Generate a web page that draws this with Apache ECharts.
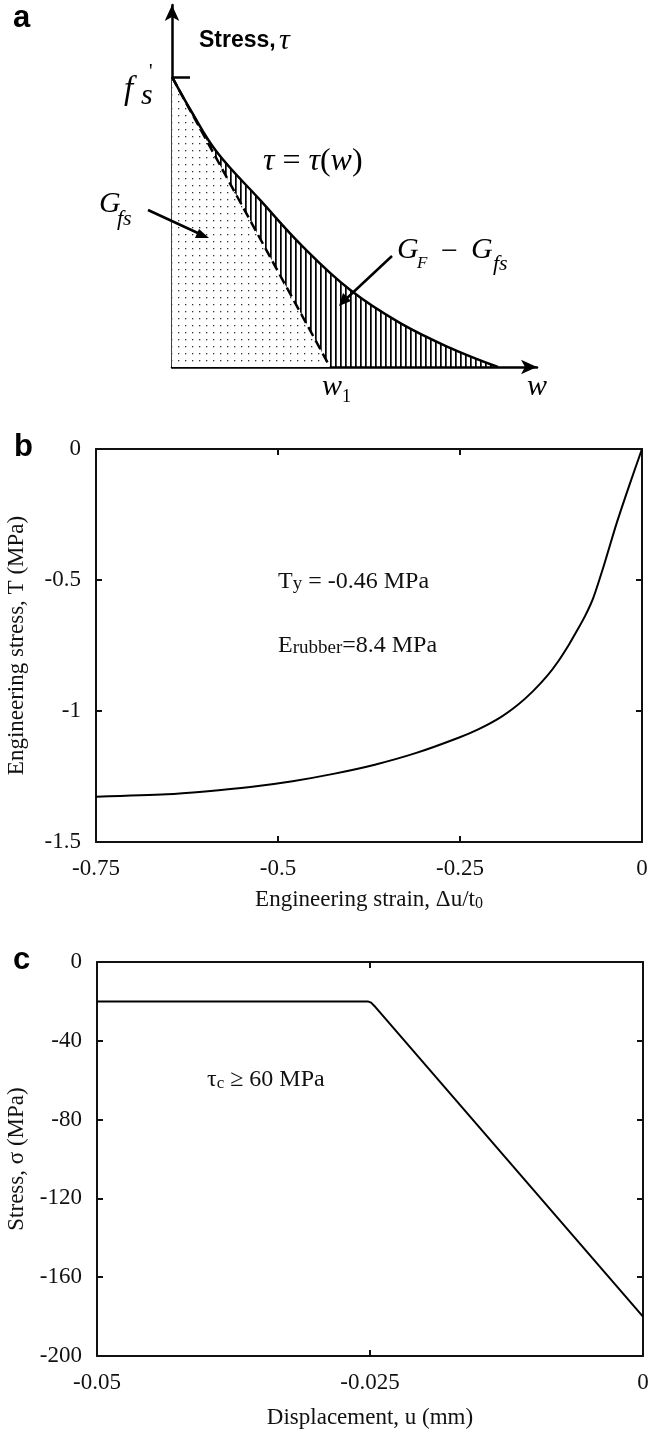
<!DOCTYPE html>
<html>
<head>
<meta charset="utf-8">
<script src="https://cdn.jsdelivr.net/npm/echarts@6/dist/echarts.min.js"></script>
<style>
html,body{margin:0;padding:0;background:#fff;}
#chart{width:651px;height:1430px;}
</style>
</head>
<body>
<div id="chart"></div>
<script>
// ---------- Panel a: schematic softening law (normalised units) ----------
const aCurveW   = [0, 0.06, 0.137, 0.27, 0.402, 0.546, 0.699, 0.853, 1.0];
const aCurveTau = [1, 0.88, 0.742, 0.576, 0.414, 0.266, 0.152, 0.066, 0.0];
const aDashW    = [0, 0.485];
const aDashTau  = [1, 0];
const aPeakTick = [1];

// ---------- Panel b: rubber engineering stress-strain ----------
const bStrain = [-0.75, -0.653, -0.6, -0.538, -0.48, -0.424, -0.367, -0.31, -0.252, -0.225, -0.195, -0.17, -0.15, -0.13, -0.115, -0.1, -0.09, -0.0783, -0.0669, -0.0532, -0.0348, -0.0165, 0];
const bStress = [-1.327, -1.318, -1.307, -1.29, -1.268, -1.24, -1.205, -1.16, -1.102, -1.07, -1.025, -0.975, -0.925, -0.865, -0.81, -0.745, -0.697, -0.638, -0.568, -0.452, -0.283, -0.131, 0];
const bXTicks = { min: -0.75, max: 0, interval: 0.25 };
const bYTicks = { min: -1.5, max: 0, interval: 0.5 };

// ---------- Panel c: cohesive law ----------
const cDisp   = [-0.05, -0.0252, -0.0249, -0.0246, 0];
const cStress = [-20, -20, -20.6, -22.3, -180];
const cXTicks = { min: -0.05, max: 0, interval: 0.025 };
const cYTicks = { min: -200, max: 0, interval: 40 };

const SERIF = '"Liberation Serif","Times New Roman",serif';
const SANS = '"Liberation Sans",Arial,sans-serif';
const INK = '#111';

function hatchPattern() {
  const c = document.createElement('canvas');
  c.width = 5; c.height = 10;
  const g = c.getContext('2d');
  g.fillStyle = '#000';
  g.fillRect(0, 0, 1.7, 10);
  return c;
}
function dotPattern() {
  const c = document.createElement('canvas');
  c.width = 7; c.height = 7;
  const g = c.getContext('2d');
  g.fillStyle = '#fff';
  g.fillRect(0, 0, 7, 7);
  g.fillStyle = '#333';
  g.fillRect(3, 3, 1.3, 1.3);
  return c;
}
const zip = (xs, ys) => xs.map((x, i) => [x, ys[i]]);

const chart = echarts.init(document.getElementById('chart'), null, { renderer: 'canvas' });

const subRich = { s: { fontFamily: SERIF, fontSize: 16, lineHeight: 8, verticalAlign: 'bottom', color: INK } };
const boxAxis = (gridIndex, pos, t, showLabel, name, nameGap) => ({
  type: 'value', gridIndex, position: pos, min: t.min, max: t.max, interval: t.interval,
  axisLine: { show: true, onZero: false, lineStyle: { color: INK, width: 2 } },
  axisTick: { show: true, inside: true, length: 6, lineStyle: { color: INK, width: 2 } },
  axisLabel: { show: showLabel, color: INK, fontFamily: SERIF, fontSize: 23, margin: 15 },
  splitLine: { show: false },
  name: name || '', nameLocation: 'middle', nameGap: nameGap || 0,
  nameTextStyle: { color: INK, fontFamily: SERIF, fontSize: 23, lineHeight: 24, rich: subRich }
});

const G = (el) => Object.assign({ z: 50 }, el);
const gridBase = { containLabel: false, outerBoundsMode: 'none' };

const option = {
  backgroundColor: '#fff',
  animation: false,
  grid: [
    Object.assign({ left: 172, top: 5, width: 365, height: 362 }, gridBase),
    Object.assign({ left: 96, top: 449, width: 546, height: 393 }, gridBase),
    Object.assign({ left: 97, top: 962, width: 546, height: 394 }, gridBase)
  ],
  xAxis: [
    { type: 'value', gridIndex: 0, min: 0, max: 1.12,
      axisLine: { show: true, onZero: false, symbol: ['none', 'arrow'], symbolSize: [11, 16], lineStyle: { color: '#000', width: 2.5 } },
      axisTick: { show: false }, axisLabel: { show: false }, splitLine: { show: false } },
    boxAxis(1, 'bottom', bXTicks, true, 'Engineering strain, Δu/t{s|0}', 46),
    boxAxis(1, 'top', bXTicks, false),
    boxAxis(2, 'bottom', cXTicks, true, 'Displacement, u (mm)', 50),
    boxAxis(2, 'top', cXTicks, false)
  ],
  yAxis: [
    { type: 'value', gridIndex: 0, min: 0, max: 1.248,
      axisLine: { show: true, onZero: false, symbol: ['none', 'arrow'], symbolSize: [11, 16], lineStyle: { color: '#000', width: 2.5 } },
      axisTick: { show: true, inside: true, length: 18, customValues: aPeakTick, lineStyle: { color: '#000', width: 2.5 } },
      axisLabel: { show: false }, splitLine: { show: false } },
    boxAxis(1, 'left', bYTicks, true, 'Engineering stress, T (MPa)', 67),
    boxAxis(1, 'right', bYTicks, false),
    boxAxis(2, 'left', cYTicks, true, 'Stress, σ (MPa)', 67),
    boxAxis(2, 'right', cYTicks, false)
  ],
  series: [
    // hatched area under tau(w)
    { type: 'line', xAxisIndex: 0, yAxisIndex: 0, data: zip(aCurveW, aCurveTau), smooth: 0.4,
      symbol: 'none', lineStyle: { width: 0, opacity: 0 },
      areaStyle: { color: { image: hatchPattern(), repeat: 'repeat' }, opacity: 1 }, z: 2 },
    // dotted area under the dashed linear law
    { type: 'line', xAxisIndex: 0, yAxisIndex: 0, data: zip(aDashW, aDashTau),
      symbol: 'none', lineStyle: { color: '#000', width: 2.5, type: [10, 5] },
      areaStyle: { color: { image: dotPattern(), repeat: 'repeat' }, opacity: 1 }, z: 3 },
    // tau(w) curve
    { type: 'line', xAxisIndex: 0, yAxisIndex: 0, data: zip(aCurveW, aCurveTau), smooth: 0.4,
      symbol: 'none', lineStyle: { color: '#000', width: 2.5 }, z: 4 },
    // panel b
    { type: 'line', xAxisIndex: 1, yAxisIndex: 1, data: zip(bStrain, bStress), smooth: 0.25,
      symbol: 'none', lineStyle: { color: '#000', width: 2 } },
    // panel c
    { type: 'line', xAxisIndex: 3, yAxisIndex: 3, data: zip(cDisp, cStress),
      symbol: 'none', lineStyle: { color: '#000', width: 2 } }
  ],
  graphic: [
    // panel letters
    G({ type: 'text', left: 13, top: 3, style: { text: 'a', font: 'bold 31px ' + SANS, fill: '#000' } }),
    G({ type: 'text', left: 14, top: 432, style: { text: 'b', font: 'bold 31px ' + SANS, fill: '#000' } }),
    G({ type: 'text', left: 13, top: 945, style: { text: 'c', font: 'bold 31px ' + SANS, fill: '#000' } }),
    // panel a texts
    G({ type: 'text', x: 199, y: 41, style: { text: '{b|Stress,} {t|τ}', verticalAlign: 'middle',
        rich: { b: { font: 'bold 23px ' + SANS, fill: '#000' }, t: { font: 'italic 30px ' + SERIF, fill: '#000' } } } }),
    G({ type: 'text', x: 124, y: 90, style: { text: 'f', font: 'italic 33px ' + SERIF, fill: '#000', verticalAlign: 'middle' } }),
    G({ type: 'text', x: 141, y: 96, style: { text: 's', font: 'italic 30px ' + SERIF, fill: '#000', verticalAlign: 'middle' } }),
    G({ type: 'text', x: 149, y: 73, style: { text: "'", font: '20px ' + SERIF, fill: '#000', verticalAlign: 'middle' } }),
    G({ type: 'text', x: 263, y: 162, style: { text: '{i|τ} = {i|τ}({i|w})', font: '32px ' + SERIF, fill: '#000', verticalAlign: 'middle',
        rich: { i: { font: 'italic 32px ' + SERIF, fill: '#000' } } } }),
    G({ type: 'text', x: 99, y: 204, style: { text: 'G', font: 'italic 30px ' + SERIF, fill: '#000', verticalAlign: 'middle' } }),
    G({ type: 'text', x: 117, y: 219, style: { text: 'fs', font: 'italic 22px ' + SERIF, fill: '#000', verticalAlign: 'middle' } }),
    G({ type: 'text', x: 397, y: 250, style: { text: 'G', font: 'italic 30px ' + SERIF, fill: '#000', verticalAlign: 'middle' } }),
    G({ type: 'text', x: 417, y: 264, style: { text: 'F', font: 'italic 17px ' + SERIF, fill: '#000', verticalAlign: 'middle' } }),
    G({ type: 'text', x: 441, y: 252, style: { text: '−', font: '30px ' + SERIF, fill: '#000', verticalAlign: 'middle' } }),
    G({ type: 'text', x: 471, y: 250, style: { text: 'G', font: 'italic 30px ' + SERIF, fill: '#000', verticalAlign: 'middle' } }),
    G({ type: 'text', x: 493, y: 264, style: { text: 'fs', font: 'italic 22px ' + SERIF, fill: '#000', verticalAlign: 'middle' } }),
    G({ type: 'text', x: 322, y: 387, style: { text: 'w', font: 'italic 30px ' + SERIF, fill: '#000', verticalAlign: 'middle' } }),
    G({ type: 'text', x: 342, y: 397, style: { text: '1', font: '18px ' + SERIF, fill: '#000', verticalAlign: 'middle' } }),
    G({ type: 'text', x: 527, y: 387, style: { text: 'w', font: 'italic 30px ' + SERIF, fill: '#000', verticalAlign: 'middle' } }),
    // pointer arrows in panel a
    G({ type: 'line', shape: { x1: 148, y1: 210, x2: 200, y2: 234 }, style: { stroke: '#000', lineWidth: 2.5 } }),
    G({ type: 'polygon', shape: { points: [[209, 238], [195, 238], [199, 229]] }, style: { fill: '#000' } }),
    G({ type: 'line', shape: { x1: 392, y1: 256, x2: 346, y2: 299 }, style: { stroke: '#000', lineWidth: 2.5 } }),
    G({ type: 'polygon', shape: { points: [[339, 306], [343, 293], [351, 301]] }, style: { fill: '#000' } }),
    // panel b annotations
    G({ type: 'text', x: 278, y: 582, style: { text: 'T{s|y} = -0.46 MPa', font: '24px ' + SERIF, fill: INK, verticalAlign: 'middle',
        rich: { s: { font: '19px ' + SERIF, fill: INK, lineHeight: 12, verticalAlign: 'bottom' } } } }),
    G({ type: 'text', x: 278, y: 646, style: { text: 'E{s|rubber}=8.4 MPa', font: '24px ' + SERIF, fill: INK, verticalAlign: 'middle',
        rich: { s: { font: '19px ' + SERIF, fill: INK, lineHeight: 12, verticalAlign: 'bottom' } } } }),
    // panel c annotation
    G({ type: 'text', x: 207, y: 1080, style: { text: 'τ{s|c} ≥ 60 MPa', font: '24px ' + SERIF, fill: INK, verticalAlign: 'middle',
        rich: { s: { font: '17px ' + SERIF, fill: INK, lineHeight: 12, verticalAlign: 'bottom' } } } })
  ]
};
chart.setOption(option);
</script>
</body>
</html>
